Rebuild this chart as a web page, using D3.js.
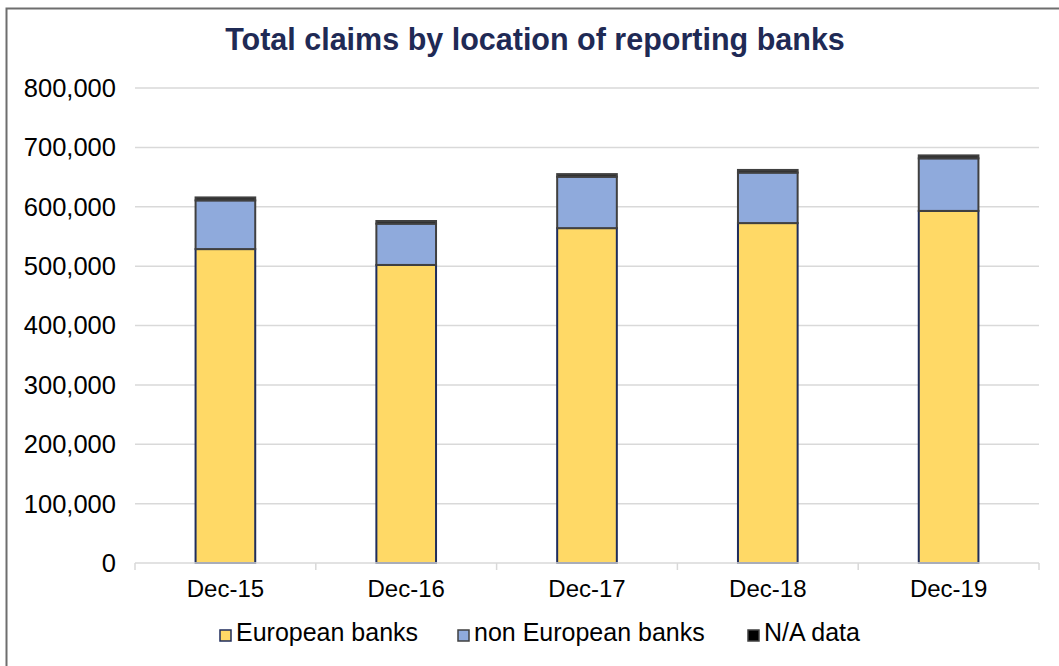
<!DOCTYPE html>
<html>
<head>
<meta charset="utf-8">
<script src="https://cdn.jsdelivr.net/npm/d3@7"></script>
<style>
  body { margin: 0; background: #fff; }
  svg { font-family: "Liberation Sans", Arial, Helvetica, sans-serif; }
</style>
</head>
<body>
<svg width="1059" height="666"></svg>
<script>
// values
const categories = ["Dec-15", "Dec-16", "Dec-17", "Dec-18", "Dec-19"];
const european = [528700, 502000, 564000, 572500, 593000];
const nonEuropean = [82000, 69500, 86500, 85000, 88500];
const naData = [5000, 4500, 4500, 4500, 5000];
const yTicks = [0, 100000, 200000, 300000, 400000, 500000, 600000, 700000, 800000];

const seriesKeys = ["european", "nonEuropean", "na"];
const seriesNames = ["European banks", "non European banks", "N/A data"];
const fills = { european: "#ffd966", nonEuropean: "#8faadc", na: "#2b2b2b" };
const strokes = { european: "#1f2d5c", nonEuropean: "#404040", na: "#404040" };

const rows = categories.map((c, i) => ({
    cat: c, european: european[i], nonEuropean: nonEuropean[i], na: naData[i]
}));

const svg = d3.select("svg");

// outer chart border
svg.append("rect")
    .attr("x", 6.5).attr("y", 8.5)
    .attr("width", 1200).attr("height", 800)
    .attr("fill", "none")
    .attr("stroke", "#6e6e6e")
    .attr("stroke-width", 2);

const x = d3.scaleBand().domain(categories).range([135, 1039])
    .paddingInner(0.67).paddingOuter(0.335);
const y = d3.scaleLinear().domain([0, 800000]).range([563, 88]);

// gridlines
svg.append("g")
    .selectAll("line").data(yTicks.slice(1)).enter()
    .append("line")
    .attr("x1", 135).attr("x2", 1039)
    .attr("y1", d => y(d)).attr("y2", d => y(d))
    .attr("stroke", "#d9d9d9")
    .attr("stroke-width", 1.5);

// y labels
svg.append("g")
    .selectAll("text").data(yTicks).enter()
    .append("text")
    .attr("x", 116)
    .attr("y", d => y(d))
    .attr("dy", "0.35em")
    .attr("text-anchor", "end")
    .attr("font-size", "25.5px")
    .attr("fill", "#000")
    .text(d => d3.format(",")(d));

// stacked bars
const stack = d3.stack().keys(seriesKeys)(rows);
svg.append("g")
    .selectAll("g").data(stack).enter()
    .append("g")
    .attr("fill", d => fills[d.key])
    .attr("stroke", d => strokes[d.key])
    .attr("stroke-width", 2)
    .selectAll("rect").data(d => d).enter()
    .append("rect")
    .attr("x", d => x(d.data.cat))
    .attr("y", d => y(d[1]))
    .attr("width", x.bandwidth())
    .attr("height", d => y(d[0]) - y(d[1]));

// x axis line with boundary ticks
const step = x.step();
const xAxis = svg.append("g").attr("stroke", "#d9d9d9").attr("stroke-width", 1.5);
xAxis.append("line")
    .attr("x1", 135).attr("x2", 1039)
    .attr("y1", 563).attr("y2", 563);
xAxis.selectAll("line.tick").data(d3.range(categories.length + 1)).enter()
    .append("line")
    .attr("class", "tick")
    .attr("x1", i => 135 + i * step).attr("x2", i => 135 + i * step)
    .attr("y1", 563).attr("y2", 570);

svg.append("g")
    .selectAll("text").data(categories).enter()
    .append("text")
    .attr("x", d => x(d) + x.bandwidth() / 2)
    .attr("y", 597)
    .attr("text-anchor", "middle")
    .attr("font-size", "24px")
    .text(d => d);

// title
svg.append("text")
    .attr("x", 535)
    .attr("y", 50)
    .attr("text-anchor", "middle")
    .attr("font-size", "30.5px")
    .attr("font-weight", "bold")
    .attr("fill", "#1f2a55")
    .text("Total claims by location of reporting banks");

// legend
const legendX = [220, 458, 748];
const legend = svg.append("g");
seriesKeys.forEach((k, i) => {
    legend.append("rect")
        .attr("x", legendX[i]).attr("y", 630)
        .attr("width", 11).attr("height", 11)
        .attr("fill", k === "na" ? "#000" : fills[k])
        .attr("stroke", strokes[k])
        .attr("stroke-width", 1.5);
    legend.append("text")
        .attr("x", legendX[i] + 16)
        .attr("y", 641)
        .attr("font-size", "25px")
        .text(seriesNames[i]);
});
</script>
</body>
</html>
